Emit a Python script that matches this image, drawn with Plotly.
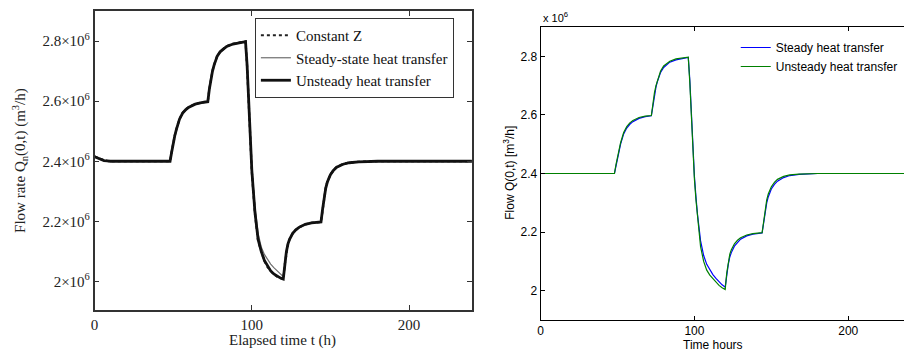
import plotly.graph_objects as go

# ---------------- data (flow in units of 10^6 m3/h) ----------------
time_h = [0, 2, 4, 6, 8, 10, 20, 30, 40, 48, 49, 50, 51, 52, 54, 56, 58, 60, 64, 68,
          72, 73, 74, 75, 76, 78, 80, 84, 88, 92, 96, 97, 98, 99, 100, 101, 102, 104,
          106, 108, 110, 112, 114, 116, 118, 120, 121, 122, 123, 124, 126, 128, 130,
          134, 138, 144, 145, 146, 147, 148, 150, 152, 154, 158, 162, 168, 180, 200,
          220, 240]

# left panel
flow_unsteady_left = [2.415, 2.410, 2.405, 2.402, 2.401, 2.400, 2.400, 2.400, 2.400, 2.400,
                      2.430, 2.460, 2.485, 2.505, 2.540, 2.560, 2.572, 2.580, 2.590, 2.595,
                      2.598, 2.640, 2.675, 2.700, 2.720, 2.750, 2.765, 2.782, 2.790, 2.795,
                      2.798, 2.720, 2.600, 2.470, 2.370, 2.300, 2.230, 2.140,
                      2.100, 2.070, 2.050, 2.035, 2.025, 2.017, 2.012, 2.008, 2.060, 2.100,
                      2.125, 2.140, 2.160, 2.172, 2.180, 2.190, 2.195, 2.198, 2.240, 2.280,
                      2.310, 2.330, 2.355, 2.370, 2.380, 2.390, 2.395, 2.398, 2.400, 2.400,
                      2.400, 2.400]
flow_steady_left = [2.415, 2.410, 2.405, 2.402, 2.401, 2.400, 2.400, 2.400, 2.400, 2.400,
                    2.428, 2.458, 2.483, 2.503, 2.538, 2.558, 2.570, 2.579, 2.589, 2.594,
                    2.597, 2.638, 2.672, 2.698, 2.718, 2.748, 2.763, 2.780, 2.789, 2.794,
                    2.797, 2.720, 2.605, 2.480, 2.385, 2.315, 2.250, 2.160,
                    2.115, 2.090, 2.072, 2.058, 2.046, 2.036, 2.026, 2.016, 2.060, 2.098,
                    2.122, 2.138, 2.158, 2.170, 2.178, 2.189, 2.194, 2.198, 2.238, 2.277,
                    2.307, 2.328, 2.353, 2.368, 2.379, 2.389, 2.394, 2.398, 2.400, 2.400,
                    2.400, 2.400]
flow_constz_left = [2.416, 2.411, 2.406, 2.403, 2.401, 2.400, 2.400, 2.400, 2.400, 2.400,
                    2.431, 2.461, 2.486, 2.506, 2.541, 2.561, 2.573, 2.581, 2.591, 2.596,
                    2.599, 2.641, 2.676, 2.701, 2.721, 2.751, 2.766, 2.783, 2.791, 2.796,
                    2.799, 2.715, 2.595, 2.465, 2.365, 2.295, 2.225, 2.135,
                    2.097, 2.068, 2.048, 2.034, 2.024, 2.016, 2.011, 2.007, 2.058, 2.098,
                    2.124, 2.140, 2.160, 2.172, 2.180, 2.190, 2.195, 2.198, 2.241, 2.281,
                    2.311, 2.331, 2.356, 2.371, 2.381, 2.391, 2.396, 2.398, 2.400, 2.400,
                    2.400, 2.400]

# right panel
flow_steady_right = [2.400, 2.400, 2.400, 2.400, 2.400, 2.400, 2.400, 2.400, 2.400, 2.400,
                     2.425, 2.455, 2.480, 2.500, 2.535, 2.555, 2.568, 2.577, 2.588, 2.594,
                     2.597, 2.635, 2.670, 2.695, 2.715, 2.745, 2.762, 2.780, 2.788, 2.793,
                     2.796, 2.720, 2.600, 2.480, 2.390, 2.320, 2.260, 2.170,
                     2.120, 2.090, 2.070, 2.055, 2.042, 2.030, 2.020, 2.012, 2.055, 2.090,
                     2.115, 2.130, 2.152, 2.166, 2.176, 2.187, 2.193, 2.197, 2.235, 2.270,
                     2.300, 2.320, 2.347, 2.363, 2.374, 2.386, 2.393, 2.397, 2.400, 2.400,
                     2.400, 2.400]
flow_unsteady_right = [2.400, 2.400, 2.400, 2.400, 2.400, 2.400, 2.400, 2.400, 2.400, 2.400,
                       2.430, 2.460, 2.485, 2.505, 2.540, 2.560, 2.573, 2.581, 2.591, 2.596,
                       2.598, 2.640, 2.675, 2.700, 2.720, 2.750, 2.767, 2.783, 2.791, 2.795,
                       2.797, 2.710, 2.590, 2.470, 2.380, 2.310, 2.250, 2.150,
                       2.100, 2.070, 2.053, 2.040, 2.028, 2.018, 2.010, 2.004, 2.060, 2.100,
                       2.125, 2.140, 2.160, 2.172, 2.181, 2.190, 2.195, 2.198, 2.240, 2.280,
                       2.310, 2.330, 2.355, 2.370, 2.380, 2.390, 2.395, 2.398, 2.400, 2.400,
                       2.400, 2.400]

y_ticks = [2.0, 2.2, 2.4, 2.6, 2.8]
y_ticktext_left = ["2×10<sup>6</sup>", "2.2×10<sup>6</sup>", "2.4×10<sup>6</sup>",
                   "2.6×10<sup>6</sup>", "2.8×10<sup>6</sup>"]
y_ticktext_right = ["2", "2.2", "2.4", "2.6", "2.8"]
x_ticks = [0, 100, 200]

SERIF = "Liberation Serif"
SANS = "Liberation Sans"
W, H = 904, 353

fig = go.Figure()

# left panel traces
fig.add_trace(go.Scatter(x=time_h, y=flow_constz_left, mode="lines", name="Constant Z",
                         line=dict(color="#222222", width=2.2, dash="dot"),
                         xaxis="x", yaxis="y", legend="legend"))
fig.add_trace(go.Scatter(x=time_h, y=flow_steady_left, mode="lines",
                         name="Steady-state heat transfer",
                         line=dict(color="#6e6e6e", width=1.2),
                         xaxis="x", yaxis="y", legend="legend"))
fig.add_trace(go.Scatter(x=time_h, y=flow_unsteady_left, mode="lines",
                         name="Unsteady heat transfer",
                         line=dict(color="#111111", width=2.8),
                         xaxis="x", yaxis="y", legend="legend"))

# right panel traces
fig.add_trace(go.Scatter(x=time_h, y=flow_steady_right, mode="lines",
                         name="Steady heat transfer",
                         line=dict(color="#0000ff", width=1.2),
                         xaxis="x2", yaxis="y2", legend="legend2"))
fig.add_trace(go.Scatter(x=time_h, y=flow_unsteady_right, mode="lines",
                         name="Unsteady heat transfer",
                         line=dict(color="#008000", width=1.2),
                         xaxis="x2", yaxis="y2", legend="legend2"))

lx0, lx1, ly0, ly1 = 91, 470, 11, 310
rx0, rx1, ry0, ry1 = 539, 904, 27, 320

def px(x):
    return x / W

def py(y):
    return 1 - y / H

axis_left = dict(showline=True, linecolor="#333333", linewidth=1.5, mirror="ticks",
                 ticks="inside", ticklen=5, tickcolor="#333333", showgrid=False,
                 zeroline=False, tickfont=dict(family=SERIF, size=15, color="#222222"))
axis_right = dict(showline=True, linecolor="#000000", linewidth=1, ticks="inside",
                  ticklen=4, tickcolor="#000000", showgrid=False, zeroline=False,
                  tickfont=dict(family=SANS, size=12, color="#000000"))

fig.update_layout(
    width=W, height=H, margin=dict(l=0, r=0, t=0, b=0),
    paper_bgcolor="white", plot_bgcolor="white",
    xaxis=dict(axis_left, domain=[px(lx0), px(lx1)], range=[0, 240], tickvals=x_ticks,
               anchor="y"),
    yaxis=dict(axis_left, domain=[py(ly1), py(ly0)], range=[1.905, 2.9], tickvals=y_ticks,
               ticktext=y_ticktext_left, anchor="x"),
    xaxis2=dict(axis_right, domain=[px(rx0), px(rx1)],
                range=[0, (rx1 - rx0) / 1.545], tickvals=x_ticks, mirror="ticks",
                anchor="y2"),
    yaxis2=dict(axis_right, domain=[py(ry1), py(ry0)], range=[1.9, 2.9], tickvals=y_ticks,
                ticktext=y_ticktext_right, mirror=False, anchor="x2"),
    legend=dict(x=px(252), y=py(18), xanchor="left", yanchor="top",
                bordercolor="#333333", borderwidth=1, bgcolor="white",
                font=dict(family=SERIF, size=15, color="#111111"),
                tracegroupgap=0),
    legend2=dict(x=px(735), y=py(33), xanchor="left", yanchor="top",
                 borderwidth=0, bgcolor="rgba(0,0,0,0)",
                 font=dict(family=SANS, size=12, color="#000000"),
                 tracegroupgap=0),
    showlegend=True,
)

annotations = [
    dict(text="Flow rate Q<sub>n</sub>(0,t) (m<sup>3</sup>/h)", x=px(16), y=py(160),
         textangle=-90, font=dict(family=SERIF, size=15, color="#222222")),
    dict(text="Elapsed time t (h)", x=px(280), y=py(340),
         font=dict(family=SERIF, size=15, color="#222222")),
    dict(text="Flow Q(0,t) [m<sup>3</sup>/h]", x=px(507), y=py(173), textangle=-90,
         font=dict(family=SANS, size=12, color="#000000")),
    dict(text="Time hours", x=px(712), y=py(345),
         font=dict(family=SANS, size=12, color="#000000")),
    dict(text="x 10<sup>6</sup>", x=px(539), y=py(17), xanchor="left",
         font=dict(family=SANS, size=11, color="#000000")),
]
for a in annotations:
    a.update(xref="paper", yref="paper", showarrow=False)
    if "xanchor" not in a:
        a["xanchor"] = "center"
    a["yanchor"] = "middle"
fig.update_layout(annotations=annotations)

fig.write_html("out.html")
